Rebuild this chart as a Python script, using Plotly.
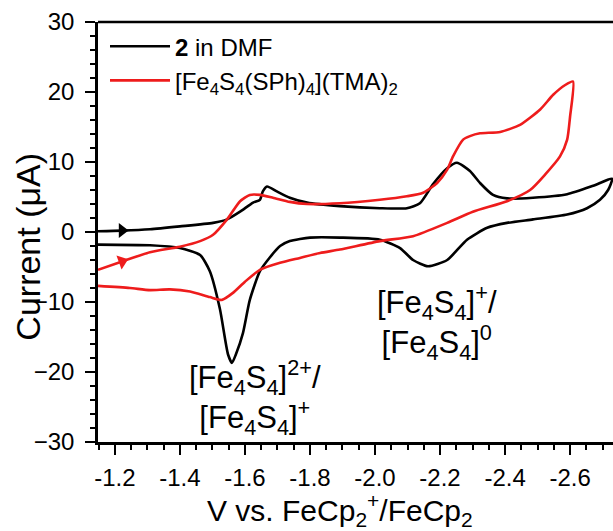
import plotly.graph_objects as go

# ---- data (V vs FeCp2+/FeCp2, current in uA) ----
black_fwd_v = [-1.148, -1.222, -1.308, -1.400, -1.502, -1.545, -1.585, -1.625, -1.646, -1.655, -1.668,
               -1.698, -1.738, -1.791, -1.892, -2.015, -2.098, -2.138, -2.178, -2.222, -2.252, -2.292,
               -2.323, -2.363, -2.406, -2.486, -2.591, -2.671, -2.729]
black_fwd_i = [0.1, 0.2, 0.4, 0.8, 1.3, 1.8, 2.9, 4.2, 4.6, 5.8, 6.5,
               5.8, 4.9, 4.2, 3.7, 3.4, 3.4, 4.1, 6.8, 9.1, 9.9, 8.7,
               7.0, 5.3, 4.8, 4.9, 5.4, 6.6, 7.6]
black_rev_v = [-2.717, -2.692, -2.652, -2.591, -2.486, -2.406, -2.345, -2.283, -2.222, -2.163, -2.117,
               -2.077, -2.015, -1.892, -1.800, -1.769, -1.738, -1.708, -1.677, -1.646, -1.615, -1.594,
               -1.572, -1.560, -1.548, -1.523, -1.492, -1.462, -1.400, -1.308, -1.148]
black_rev_i = [6.0, 4.6, 3.4, 2.5, 1.8, 1.3, 0.6, -1.1, -4.0, -4.9, -4.0,
               -2.3, -1.1, -0.8, -0.8, -1.0, -1.3, -2.0, -3.6, -5.6, -9.7, -14.4,
               -17.5, -18.7, -17.5, -11.0, -5.6, -3.3, -2.3, -1.9, -1.8]

red_fwd_v = [-1.148, -1.222, -1.308, -1.400, -1.462, -1.502, -1.545, -1.585, -1.615, -1.646, -1.686,
             -1.738, -1.791, -1.892, -2.015, -2.098, -2.148, -2.191, -2.222, -2.240, -2.271, -2.292,
             -2.323, -2.385, -2.446, -2.508, -2.548, -2.585, -2.609]
red_fwd_i = [-5.4, -4.2, -2.9, -2.1, -1.3, -0.4, 1.8, 4.4, 5.3, 5.3, 4.9,
             4.3, 4.0, 4.1, 4.6, 5.1, 5.6, 7.0, 8.9, 10.8, 13.2, 13.7,
             14.1, 14.3, 15.3, 17.5, 19.6, 21.0, 21.5]
red_rev_v = [-2.600, -2.591, -2.569, -2.523, -2.477, -2.406, -2.301, -2.222, -2.117, -2.015, -1.892,
             -1.831, -1.769, -1.708, -1.646, -1.600, -1.563, -1.529, -1.492, -1.431, -1.369, -1.308,
             -1.246, -1.148]
red_rev_i = [16.5, 13.2, 10.8, 8.2, 6.0, 4.4, 2.9, 1.3, -0.6, -1.3, -2.5,
             -3.0, -3.7, -4.4, -5.4, -7.1, -8.7, -9.7, -9.3, -8.5, -8.2, -8.3,
             -8.0, -7.7]

arrow_v = [-1.222, -1.222]
arrow_i = [0.2, -4.2]

x_ticks = [-1.2, -1.4, -1.6, -1.8, -2.0, -2.2, -2.4, -2.6]
y_ticks = [-30, -20, -10, 0, 10, 20, 30]

FONT = "Arial, Liberation Sans, sans-serif"

fig = go.Figure()
fig.add_trace(go.Scatter(x=black_fwd_v + black_rev_v, y=black_fwd_i + black_rev_i, mode="lines",
                         line=dict(color="black", width=2.6, shape="spline", smoothing=0.6),
                         name="<b>2</b> in DMF"))
fig.add_trace(go.Scatter(x=red_fwd_v + red_rev_v, y=red_fwd_i + red_rev_i, mode="lines",
                         line=dict(color="#ee1c1c", width=2.6, shape="spline", smoothing=0.6),
                         name="[Fe<sub>4</sub>S<sub>4</sub>(SPh)<sub>4</sub>](TMA)<sub>2</sub>"))
fig.add_trace(go.Scatter(x=[arrow_v[0]], y=[arrow_i[0]], mode="markers", showlegend=False,
                         marker=dict(symbol="triangle-right", size=13, color="black")))
fig.add_trace(go.Scatter(x=[arrow_v[1]], y=[arrow_i[1]], mode="markers", showlegend=False,
                         marker=dict(symbol="triangle-right", size=13, color="#ee1c1c", angle=-20)))

axis_common = dict(showline=True, linecolor="black", linewidth=2.6, ticks="outside", ticklen=10,
                   tickwidth=2.2, tickcolor="black", showgrid=False, zeroline=False,
                   tickfont=dict(family=FONT, size=24, color="black"))
fig.update_xaxes(range=[-1.148, -2.732], tickvals=x_ticks, ticktext=[f"{v:.1f}" for v in x_ticks],
                 ticklabelstandoff=2,
                 minor=dict(dtick=0.05, tick0=-1.2, ticks="outside", ticklen=5, tickwidth=2.2, tickcolor="black"),
                 **axis_common)
fig.update_yaxes(range=[-30, 30], tickvals=y_ticks, ticklabelstandoff=6,
                 minor=dict(dtick=2, tick0=0, ticks="outside", ticklen=5, tickwidth=2.2, tickcolor="black"),
                 **axis_common)

fig.add_shape(type="line", xref="paper", yref="paper", x0=0, x1=1, y0=1, y1=1,
              line=dict(color="black", width=2.6))

# axis titles
fig.add_annotation(x=0.47, y=0, xref="paper", yref="paper", xanchor="center", yanchor="middle",
                   yshift=-68, showarrow=False,
                   text="V vs. FeCp<sub>2</sub><sup>+</sup>/FeCp<sub>2</sub>",
                   font=dict(family=FONT, size=30, color="black"))
fig.add_annotation(x=-0.136, y=0.465, xref="paper", yref="paper", xanchor="center", yanchor="middle",
                   textangle=-90, showarrow=False, text="Current (\u03bcA)",
                   font=dict(family=FONT, size=34, color="black"))

fig.add_annotation(x=-1.631, y=-23.7, xref="x", yref="y", showarrow=False,
                   text="[Fe<sub>4</sub>S<sub>4</sub>]<sup>2+</sup>/<br>[Fe<sub>4</sub>S<sub>4</sub>]<sup>+</sup>",
                   font=dict(family=FONT, size=31, color="black"), align="center")
fig.add_annotation(x=-2.19, y=-12.9, xref="x", yref="y", showarrow=False,
                   text="[Fe<sub>4</sub>S<sub>4</sub>]<sup>+</sup>/<br>[Fe<sub>4</sub>S<sub>4</sub>]<sup>0</sup>",
                   font=dict(family=FONT, size=31, color="black"), align="center")

fig.update_layout(width=613, height=531, margin=dict(l=98, r=0, t=22, b=89),
                  plot_bgcolor="white", paper_bgcolor="white",
                  legend=dict(x=0.0136, y=0.995, xanchor="left", yanchor="top", itemwidth=60,
                              bgcolor="rgba(0,0,0,0)", font=dict(family=FONT, size=24, color="black"),
                              tracegroupgap=0),
                  showlegend=True)

fig.write_html("out.html")
